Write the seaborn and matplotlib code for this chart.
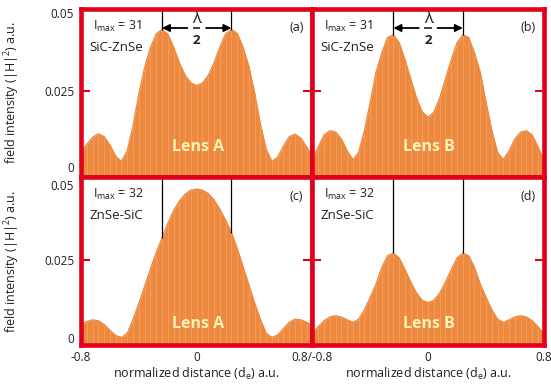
import matplotlib
matplotlib.use("Agg")
from matplotlib import pyplot as plt
from matplotlib.transforms import ScaledTranslation
import seaborn as sns

# ---------------- data ----------------
x_pos = [-0.80, -0.76, -0.72, -0.68, -0.64, -0.60, -0.56, -0.52, -0.48, -0.44,
         -0.40, -0.36, -0.32, -0.28, -0.24, -0.20, -0.16, -0.12, -0.08, -0.04,
         0.00, 0.04, 0.08, 0.12, 0.16, 0.20, 0.24, 0.28, 0.32, 0.36,
         0.40, 0.44, 0.48, 0.52, 0.56, 0.60, 0.64, 0.68, 0.72, 0.76, 0.80]

lens_a_sic_znse = [0.0055, 0.0080, 0.0103, 0.0114, 0.0105, 0.0078, 0.0043, 0.0026, 0.0060, 0.0140,
                   0.0240, 0.0325, 0.0388, 0.0432, 0.0446, 0.0432, 0.0390, 0.0340, 0.0300, 0.0276,
                   0.0268, 0.0276, 0.0300, 0.0340, 0.0390, 0.0432, 0.0446, 0.0434, 0.0390, 0.0330,
                   0.0245, 0.0145, 0.0065, 0.0026, 0.0040, 0.0075, 0.0105, 0.0113, 0.0100, 0.0072, 0.0045]

lens_b_sic_znse = [0.0030, 0.0072, 0.0110, 0.0124, 0.0120, 0.0098, 0.0060, 0.0032, 0.0055, 0.0125,
                   0.0215, 0.0310, 0.0372, 0.0421, 0.0429, 0.0404, 0.0350, 0.0288, 0.0228, 0.0183,
                   0.0167, 0.0183, 0.0228, 0.0288, 0.0350, 0.0404, 0.0429, 0.0421, 0.0372, 0.0310,
                   0.0215, 0.0125, 0.0055, 0.0032, 0.0060, 0.0098, 0.0120, 0.0124, 0.0110, 0.0072, 0.0030]

lens_a_znse_sic = [0.0042, 0.0052, 0.0058, 0.0055, 0.0043, 0.0025, 0.0008, 0.0002, 0.0015, 0.0060,
                   0.0110, 0.0165, 0.0220, 0.0272, 0.0318, 0.0365, 0.0405, 0.0436, 0.0458, 0.0471,
                   0.0474, 0.0471, 0.0460, 0.0440, 0.0410, 0.0375, 0.0336, 0.0285, 0.0228, 0.0170,
                   0.0112, 0.0060, 0.0015, 0.0002, 0.0010, 0.0030, 0.0050, 0.0060, 0.0058, 0.0050, 0.0040]

lens_b_znse_sic = [0.0015, 0.0036, 0.0055, 0.0067, 0.0071, 0.0067, 0.0058, 0.0050, 0.0060, 0.0090,
                   0.0130, 0.0172, 0.0225, 0.0262, 0.0270, 0.0255, 0.0218, 0.0178, 0.0143, 0.0120,
                   0.0113, 0.0120, 0.0143, 0.0178, 0.0218, 0.0255, 0.0270, 0.0262, 0.0225, 0.0172,
                   0.0130, 0.0090, 0.0060, 0.0050, 0.0058, 0.0067, 0.0071, 0.0067, 0.0055, 0.0036, 0.0013]

panel_curves = [lens_a_sic_znse, lens_b_sic_znse, lens_a_znse_sic, lens_b_znse_sic]
panel_letters = ["(a)", "(b)", "(c)", "(d)"]
lens_names = ["Lens A", "Lens B", "Lens A", "Lens B"]
imax_values = ["31", "31", "32", "32"]
stacks = ["SiC-ZnSe", "SiC-ZnSe", "ZnSe-SiC", "ZnSe-SiC"]
marker_x = [-0.24, 0.24]
arrow_y = 0.0451

ytick_vals = [0, 0.025, 0.05]
ytick_labels = ["0", "0.025", "0.05"]

# ---------------- style ----------------
RED = "#E2001A"
ORANGE = "#EE8A40"
STRIPE = "#F4A870"
TXT = "#231F20"

sns.set_style("white")
plt.rcParams["font.family"] = ["Open Sans", "DejaVu Sans"]
plt.rcParams["mathtext.fontset"] = "custom"
plt.rcParams["mathtext.rm"] = "Open Sans"
plt.rcParams["mathtext.it"] = "Open Sans:italic"
plt.rcParams["mathtext.bf"] = "Open Sans:bold"

YLO, YHI = -0.0023, 0.0513

fig, axes = plt.subplots(2, 2, figsize=(5.51, 3.88), dpi=100)
fig.subplots_adjust(left=0.147, right=0.987, top=0.978, bottom=0.11, wspace=0, hspace=0)

for i, ax in enumerate(axes.flat):
    y = panel_curves[i]
    ax.fill_between(x_pos, y, YLO, color=ORANGE, lw=0, zorder=1)
    ax.vlines(x_pos, YLO, y, color=STRIPE, lw=0.6, alpha=0.7, zorder=1.5)
    sns.lineplot(x=x_pos, y=y, ax=ax, color=ORANGE, lw=1.0, zorder=2)
    ax.set_xlim(-0.8, 0.8)
    ax.set_ylim(YLO, YHI)

    # peak markers
    for mx in marker_x:
        k = x_pos.index(mx)
        ax.vlines(mx, y[k], YHI, color="black", lw=0.9, zorder=3)
    if i < 2:
        for sgn in (-1, 1):
            ax.annotate("", xy=(sgn * 0.24, arrow_y), xytext=(sgn * 0.065, arrow_y),
                        arrowprops=dict(arrowstyle="-|>", color="black", lw=1.3,
                                        mutation_scale=11, shrinkA=0, shrinkB=0))
        ax.hlines(arrow_y, -0.026, 0.026, color=TXT, lw=1.2, zorder=3)
        ax.text(0.0, 0.0481, "λ", ha="center", va="center", fontsize=12, color=TXT)
        ax.text(0.0, 0.0411, "2", ha="center", va="center", fontsize=9.5,
                fontweight="bold", color=TXT)

    # texts
    ax.text(0.05, 0.895, r"I$_{\mathrm{max}}$ = " + imax_values[i], transform=ax.transAxes,
            ha="left", va="center", fontsize=9, color=TXT)
    ax.text(0.035, 0.77, stacks[i], transform=ax.transAxes,
            ha="left", va="center", fontsize=9.5, color=TXT)
    ax.text(0.93, 0.885, panel_letters[i], transform=ax.transAxes,
            ha="center", va="center", fontsize=9, color=TXT)
    lens_y = 0.175 if i < 2 else 0.125
    ax.text(0.505, lens_y, lens_names[i], transform=ax.transAxes, ha="center", va="center",
            fontsize=11.5, fontweight="bold", color="#FFF2B5", zorder=4)

    # frame
    for sp in ax.spines.values():
        sp.set_visible(True)
        sp.set_color(RED)
        sp.set_linewidth(3.3)
        sp.set_zorder(5)

    ax.set_yticks(ytick_vals)
    ax.tick_params(axis="y", which="major", direction="in", length=6.5, width=1.5,
                   color=RED, left=True, right=True, labelsize=8.5, labelcolor=TXT, pad=5)
    for j, t in enumerate(ax.yaxis.get_major_ticks()):
        if j != 1:
            t.tick1line.set_visible(False)
            t.tick2line.set_visible(False)
    ax.tick_params(axis="x", length=0, labelsize=8.5, labelcolor=TXT, pad=4)

    if i % 2 == 0:
        ax.set_yticklabels(ytick_labels)
        ax.set_ylabel(r"field intensity (|H|$^2$) a.u.", fontsize=9, color=TXT)
        ax.yaxis.set_label_coords(-0.255, 0.5)
        # keep the "0" of the top row and the "0.05" of the bottom row apart
        labs = ax.get_yticklabels()
        if i == 0:
            labs[0].set_transform(labs[0].get_transform() + ScaledTranslation(0, 2 / 72, fig.dpi_scale_trans))
        else:
            labs[2].set_transform(labs[2].get_transform() + ScaledTranslation(0, -3 / 72, fig.dpi_scale_trans))
    else:
        ax.set_yticklabels([])
        ax.set_ylabel("")

    if i >= 2:
        if i == 2:
            ax.set_xticks([-0.8, 0])
            ax.set_xticklabels(["-0.8", "0"])
        else:
            ax.set_xticks([-0.8, 0, 0.8])
            ax.set_xticklabels(["0.8/-0.8", "0", "0.8"])
        ax.set_xlabel(r"normalized distance (d$_{\mathrm{e}}$) a.u.", fontsize=9, color=TXT)
        ax.xaxis.set_label_coords(0.5, -0.12)
    else:
        ax.set_xticks([])
        ax.set_xlabel("")

fig.savefig("out.png", dpi=100)
